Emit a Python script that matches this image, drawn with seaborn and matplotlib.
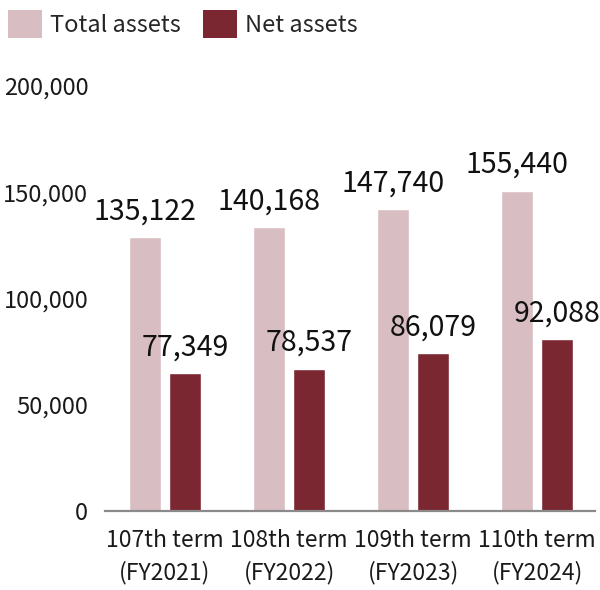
import matplotlib
matplotlib.use("Agg")
import matplotlib.pyplot as plt
from matplotlib.patches import Patch
import seaborn as sns
import pandas as pd

# ---- data ----
terms = ["107th term\n(FY2021)", "108th term\n(FY2022)", "109th term\n(FY2023)", "110th term\n(FY2024)"]
series_names = ["Total assets", "Net assets"]
# printed values (labels)
total_assets = [135122, 140168, 147740, 155440]
net_assets = [77349, 78537, 86079, 92088]
total_bar_height = [128800, 133500, 142000, 150600]
net_bar_height = [64800, 66800, 74200, 80800]
y_ticks = [0, 50000, 100000, 150000, 200000]

colors = ["#D8BEC2", "#7B2731"]

sns.set_theme(style="white")
plt.rcParams["font.family"] = ["Noto Sans CJK JP", "DejaVu Sans"]

df = pd.DataFrame({
    "term": terms * 2,
    "series": [series_names[0]] * 4 + [series_names[1]] * 4,
    "height": total_bar_height + net_bar_height,
})

fig = plt.figure(figsize=(6.0, 5.9), dpi=100)
ax = fig.add_axes([0.175, 0.1339, 0.817, 0.7203])

sns.barplot(data=df, x="term", y="height", hue="series", palette=colors,
            width=0.645, gap=0.2, ax=ax, legend=False, saturation=1)

ax.set_xlim(-0.484, 3.468)
ax.set_ylim(0, 200000)
ax.set_yticks(y_ticks)
ax.set_yticklabels([f"{v:,}" for v in y_ticks])
ax.set_xlabel("")
ax.set_ylabel("")
ax.tick_params(axis="y", length=0, pad=12, labelsize=17, colors="#1a1a1a")
ax.tick_params(axis="x", length=0, pad=13, labelsize=16.5, colors="#1a1a1a")
for lbl in ax.get_xticklabels():
    lbl.set_linespacing(1.45)

for side in ["top", "right", "left"]:
    ax.spines[side].set_visible(False)
ax.spines["bottom"].set_color("#8a8a8a")
ax.spines["bottom"].set_linewidth(1.6)
ax.grid(False)

label_sets = [total_assets, net_assets]
for container, vals in zip(ax.containers, label_sets):
    for bar, v in zip(container, vals):
        ax.annotate(f"{v:,}", xy=(bar.get_x() + bar.get_width() / 2, bar.get_height()),
                    xytext=(0, 13), textcoords="offset points",
                    ha="center", va="baseline", fontsize=20.5, color="#111111",
                    annotation_clip=False)

handles = [Patch(facecolor=c, edgecolor="none") for c in colors]
fig.legend(handles, series_names, loc="upper left", bbox_to_anchor=(8 / 600, 1 - 10 / 590),
           ncol=2, frameon=False, fontsize=17, handlelength=1.45, handleheight=1.45,
           handletextpad=0.35, columnspacing=0.9, borderpad=0, borderaxespad=0)

fig.savefig("out.png", dpi=100)
